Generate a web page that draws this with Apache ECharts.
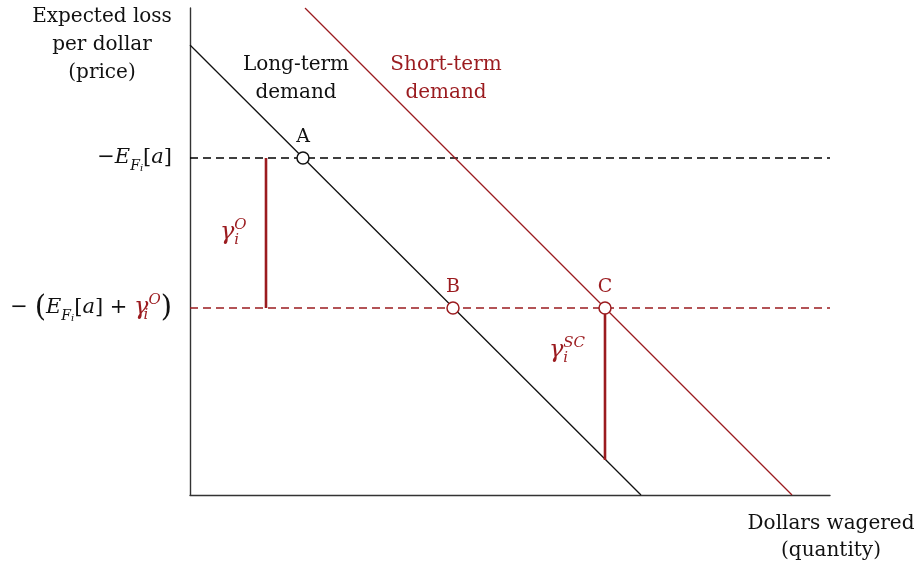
<!DOCTYPE html>
<html><head><meta charset="utf-8">
<script src="https://cdn.jsdelivr.net/npm/echarts@6/dist/echarts.min.js"></script>
<style>html,body{margin:0;padding:0;background:#fff}#c{width:921px;height:571px}</style>
</head><body><div id="c"></div>
<script>
// ---- data (units: quantity vs price, arbitrary) ----
const xMax = 64, yMax = 48.7;
const longTermDemand = [[0, 45], [45.1, 0]];
const shortTermDemand = [[11.5, 48.7], [60.2, 0]];
const priceLevels = [33.7, 18.7];          // -E[a], -(E[a]+gammaO)
const pointNames = ['A', 'B', 'C'];
const pointQuantities = [11.3, 26.3, 41.5];
const pointPrices = [33.7, 18.7, 18.7];
const gammaOSegment = [[7.6, 33.7], [7.6, 18.7]];
const gammaSCSegment = [[41.5, 18.7], [41.5, 3.5]];

const RED = '#9b1b1f', INK = '#111111';
const FONT = '"DejaVu Serif", serif';
const FS = 20;   // text size
const MS = 21;   // math size

const rich = {
  n:   {fontFamily: FONT, fontSize: MS, color: INK, lineHeight: 30},
  p:   {fontFamily: FONT, fontSize: 29, color: INK, lineHeight: 30},
  it:  {fontFamily: FONT, fontSize: MS, fontStyle: 'italic', color: INK, lineHeight: 30},
  sub: {fontFamily: FONT, fontSize: 14, fontStyle: 'italic', color: INK, lineHeight: 16, verticalAlign: 'bottom'},
  ssub:{fontFamily: FONT, fontSize: 10, fontStyle: 'italic', color: INK, lineHeight: 10, verticalAlign: 'bottom'},
  rg:  {fontFamily: FONT, fontSize: 24, fontStyle: 'italic', color: RED, lineHeight: 30},
  rsub:{fontFamily: FONT, fontSize: 15, fontStyle: 'italic', color: RED, lineHeight: 14, verticalAlign: 'bottom', width: 0},
  rsup:{fontFamily: FONT, fontSize: 15, fontStyle: 'italic', color: RED, lineHeight: 20, verticalAlign: 'top'}
};
// same styles for zrender graphic text (uses fill instead of color)
const grich = {};
Object.keys(rich).forEach(k => { grich[k] = Object.assign({}, rich[k], {fill: rich[k].color}); });

const tickTexts = [
  '{n|−}{it|E}{sub|F}{ssub|i}{n|[}{it|a}{n|]}',
  '{n|− }{p|(}{it|E}{sub|F}{ssub|i}{n|[}{it|a}{n|] + }{rg|γ}{rsub|i}{rsup|O}{p|)}'
];

const chart = echarts.init(document.getElementById('c'), null, {renderer: 'canvas'});

const pointData = pointNames.map((n, i) => ({
  name: n, value: [pointQuantities[i], pointPrices[i]],
  itemStyle: {color: '#fff', borderColor: i === 0 ? INK : RED, borderWidth: 1.5, opacity: 1},
  label: {color: i === 0 ? INK : RED}
}));

const option = {
  animation: false,
  backgroundColor: '#fff',
  grid: {left: 190, top: 8, width: 640, height: 487, containLabel: false},
  xAxis: {type: 'value', min: 0, max: xMax,
    axisLine: {show: true, lineStyle: {color: '#333', width: 1.4}},
    axisTick: {show: false}, axisLabel: {show: false}, splitLine: {show: false}},
  yAxis: {type: 'value', min: 0, max: yMax,
    axisLine: {show: true, lineStyle: {color: '#333', width: 1.4}},
    axisTick: {show: false}, splitLine: {show: false},
    axisLabel: {show: true, customValues: priceLevels, margin: 18,
      formatter: v => tickTexts[priceLevels.indexOf(v)] || '', rich: rich}},
  series: [
    {type: 'line', data: longTermDemand, symbol: 'none', lineStyle: {color: INK, width: 1.3}, z: 3},
    {type: 'line', data: shortTermDemand, symbol: 'none', lineStyle: {color: RED, width: 1.3}, z: 3},
    {type: 'line', data: [[0, priceLevels[0]], [xMax, priceLevels[0]]], symbol: 'none',
      lineStyle: {color: '#000', width: 1.3, type: [8, 5]}, z: 2},
    {type: 'line', data: [[0, priceLevels[1]], [xMax, priceLevels[1]]], symbol: 'none',
      lineStyle: {color: RED, width: 1.3, type: [8, 5]}, z: 2},
    {type: 'line', data: gammaOSegment, symbol: 'none', lineStyle: {color: RED, width: 2.6}, z: 4},
    {type: 'line', data: gammaSCSegment, symbol: 'none', lineStyle: {color: RED, width: 2.6}, z: 4},
    {type: 'scatter', data: pointData, symbol: 'circle', symbolSize: 12, z: 6,
      emphasis: {disabled: true},
      label: {show: true, position: 'top', distance: 5, formatter: '{b}',
        fontFamily: FONT, fontSize: 19, opacity: 1}}
  ],
  graphic: [
    {type: 'text', style: {x: 102, y: 3, text: 'Expected loss\nper dollar\n(price)',
      font: `${FS}px ${FONT}`, fill: INK, textAlign: 'center', lineHeight: 28}},
    {type: 'text', style: {x: 831, y: 510, text: 'Dollars wagered\n(quantity)',
      font: `${FS}px ${FONT}`, fill: INK, textAlign: 'center', lineHeight: 27}},
    {type: 'text', style: {x: 296, y: 51, text: 'Long-term\ndemand',
      font: `${FS}px ${FONT}`, fill: INK, textAlign: 'center', lineHeight: 28}},
    {type: 'text', style: {x: 446, y: 51, text: 'Short-term\ndemand',
      font: `${FS}px ${FONT}`, fill: RED, textAlign: 'center', lineHeight: 28}},
    {type: 'text', style: {x: 220, y: 218, text: '{rg|γ}{rsub|i}{rsup|O}', rich: grich}},
    {type: 'text', style: {x: 549, y: 336, text: '{rg|γ}{rsub|i}{rsup|SC}', rich: grich}}
  ]
};
chart.setOption(option);
</script></body></html>
